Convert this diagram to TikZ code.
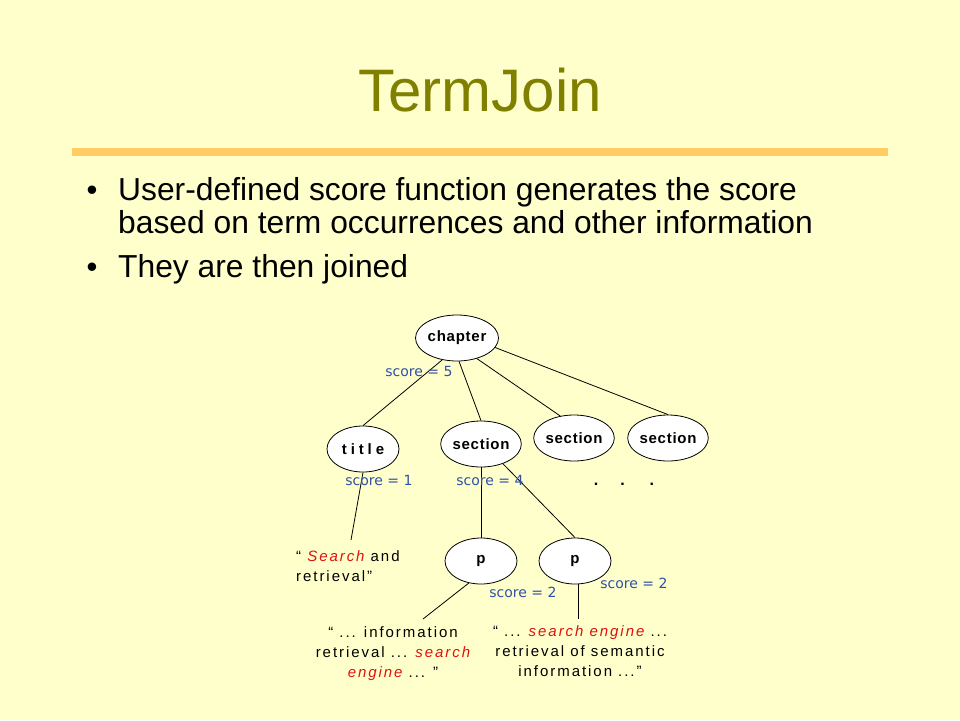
\documentclass[tikz,border=0pt]{standalone}
\usepackage{fontspec}
\setmainfont{Liberation Sans}
\newfontfamily\scorefont{DejaVu Sans}
\newfontfamily\leaffont[LetterSpace=13]{Liberation Sans}
\newfontfamily\nodefont[LetterSpace=5]{Liberation Sans}
\newfontfamily\widefont[LetterSpace=26]{Liberation Sans}
\usetikzlibrary{shapes.geometric}
\definecolor{bg}{RGB}{255,255,204}
\definecolor{titleol}{RGB}{128,128,0}
\definecolor{barc}{RGB}{255,204,102}
\definecolor{scoreblue}{RGB}{48,80,168}
\definecolor{leafred}{RGB}{224,16,16}
\newcommand{\hl}[1]{\textcolor{leafred}{\itshape #1}}
\begin{document}
\begin{tikzpicture}[x=1pt,y=-1pt,
  treenode/.style={ellipse, draw, fill=white, line width=0.8pt, minimum width=72pt, minimum height=46pt, inner sep=0pt, font=\nodefont\bfseries\fontsize{15}{15}\selectfont},
  edge/.style={line width=0.8pt},
  scorelbl/.style={text=scoreblue, inner sep=0pt, font=\scorefont\fontsize{14}{14}\selectfont},
  leaf/.style={inner sep=0pt, font=\leaffont\fontsize{15}{20}\selectfont},
  bodytext/.style={anchor=base west, inner sep=0pt, font=\fontsize{31.8}{33}\selectfont},
  bulletmark/.style={anchor=base, inner sep=0pt, font=\fontsize{31}{33}\selectfont}
]
\fill[bg] (0,0) rectangle (960,720);
\useasboundingbox (0,0) rectangle (960,720);

\node[anchor=base, inner sep=0pt, text=titleol, font=\fontsize{60}{60}\selectfont] (ttl) at (480,111) {TermJoin};
\fill[barc] (72,148) rectangle (888,156);

\node[bulletmark] (bu1) at (92,200) {•};
\node[bodytext] (l1) at (118,200) {User-defined score function generates the score};
\node[bodytext] (l2) at (118,233) {based on term occurrences and other information};
\node[bulletmark] (bu2) at (92,277) {•};
\node[bodytext] (l3) at (118,277) {They are then joined};

% tree nodes
\node[treenode] (chapter) at (457,338) {chapter};
\node[treenode] (title) at (363,449) {\widefont\bfseries title};
\node[treenode] (sec1) at (481,444) {section};
\node[treenode] (sec2) at (574,438) {section};
\node[treenode] (sec3) at (668,438) {section};
\node[treenode] (p1) at (481,561) {p};
\node[treenode] (p2) at (575,561) {p};

% leaves
\node[leaf, anchor=west, align=left] (leaf1) at (296,566) {“ \hl{Search} and\\retrieval”};
\node[leaf, align=center] (leaf2) at (393,654) {“ ... information\\retrieval ... \hl{search}\\\hl{engine} ... ”};
\node[leaf, align=center] (leaf3) at (580,651) {“ ... \hl{search engine} ...\\retrieval of semantic\\information ...”};

\coordinate (e1) at (351,540);
\coordinate (e2) at (423,619);
\coordinate (e3) at (578,619);

% edges
\draw[edge] (chapter.236) -- (title.north);
\draw[edge] (chapter.275) -- (sec1.north);
\draw[edge] (chapter.314) -- (sec2.122);
\draw[edge] (chapter.346) -- (sec3.north);
\draw[edge] (title.south) -- (e1);
\draw[edge] (sec1.south) -- (p1.north);
\draw[edge] (sec1.318) -- (p2.north);
\draw[edge] (p1.241) -- (e2);
\draw[edge] (p2.south -| e3) -- (e3);

% scores
\node[scorelbl] (s5) at (419,371) {score = 5};
\node[scorelbl] (s1) at (379,480) {score = 1};
\node[scorelbl] (s4) at (490,480) {score = 4};
\node[scorelbl] (s2a) at (523,592) {score = 2};
\node[scorelbl] (s2b) at (634,583) {score = 2};

\node[inner sep=0pt, font=\fontsize{16}{16}\selectfont\bfseries] (dots) at (624,484) {.\hspace{22pt}.\hspace{25pt}.};
\end{tikzpicture}
\end{document}
